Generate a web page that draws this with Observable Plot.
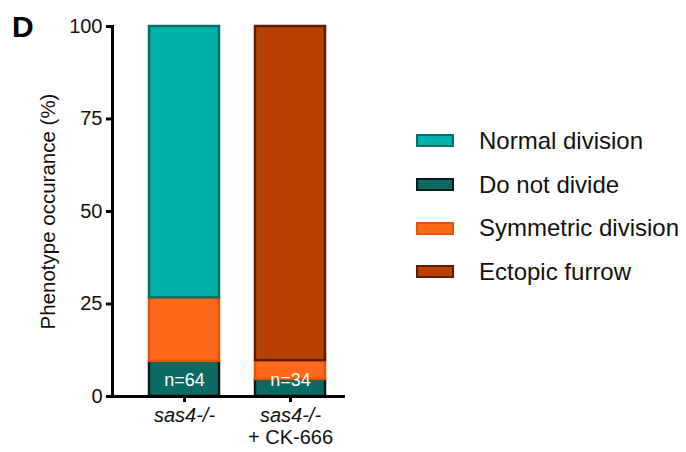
<!DOCTYPE html>
<html>
<head>
<meta charset="utf-8">
<script src="https://cdn.jsdelivr.net/npm/d3@7"></script>
<script src="https://cdn.jsdelivr.net/npm/@observablehq/plot@0.6"></script>
<style>
  body { margin: 0; background: #fff; font-family: Arial, "Liberation Sans", sans-serif; }
  #wrap { position: relative; width: 686px; height: 452px; }
  #panel { position: absolute; left: 12px; top: 10px; font-size: 30px; font-weight: bold; color: #000; }
  #legend { position: absolute; left: 416px; top: 119px; }
  .row { display: flex; align-items: center; height: 43.7px; }
  .sw { width: 34px; height: 9px; border: 2px solid; }
  .lab { margin-left: 25px; font-size: 24px; color: #111; }
</style>
</head>
<body>
<div id="wrap">
  <div id="panel">D</div>
  <div id="legend"></div>
</div>
<script>
const categories = ["sas4-/-", "sas4-/- + CK-666"];
const xLine1 = ["sas4-/-", "sas4-/-"];
const xLine2 = ["", "+ CK-666"];
const phenotypes = ["Do not divide", "Symmetric division", "Normal division", "Ectopic furrow"];
const doNotDivide = [9.5, 4.6];
const symmetricDivision = [17.2, 5.1];
const normalDivision = [73.3, 0];
const ectopicFurrow = [0, 90.3];
const nLabels = ["n=64", "n=34"];
const legendOrder = ["Normal division", "Do not divide", "Symmetric division", "Ectopic furrow"];
const yTicks = [0, 25, 50, 75, 100];
const yLabel = "Phenotype occurance (%)";

const fills = {
  "Normal division": "#00b2a9",
  "Do not divide": "#0c6a64",
  "Symmetric division": "#ff6a1a",
  "Ectopic furrow": "#b84000"
};
const strokes = {
  "Normal division": "#0a6e69",
  "Do not divide": "#0a1a18",
  "Symmetric division": "#e2560c",
  "Ectopic furrow": "#5e1d00"
};

const series = [doNotDivide, symmetricDivision, normalDivision, ectopicFurrow];
const data = [];
categories.forEach((c, i) => {
  phenotypes.forEach((p, j) => {
    if (series[j][i] > 0) data.push({group: c, phenotype: p, value: series[j][i]});
  });
});

const chart = Plot.plot({
  width: 686,
  height: 452,
  marginLeft: 112,
  marginRight: 341,
  marginTop: 26,
  marginBottom: 56,
  style: {fontFamily: "Arial, 'Liberation Sans', sans-serif", color: "#111", background: "transparent"},
  x: {domain: categories, range: [149, 325], paddingInner: 0.34, paddingOuter: 0, axis: null},
  y: {domain: [0, 100], axis: null},
  color: {type: "identity"},
  marks: [
    Plot.barY(data, Plot.stackY({
      x: "group",
      y: "value",
      order: phenotypes,
      z: "phenotype",
      fill: d => fills[d.phenotype],
      stroke: d => strokes[d.phenotype],
      strokeWidth: 2.5
    })),
    Plot.text(categories, {x: d => d, y: 0, text: (d, i) => nLabels[i], dy: -16, fill: "white", fontSize: 18}),
    Plot.axisY({ticks: yTicks, tickSize: 6, strokeWidth: 3, fontSize: 20, tickPadding: 4, label: null, stroke: "#000", color: "#111"}),
    Plot.axisX({tickSize: 6, strokeWidth: 3, tickFormat: () => "", label: null, stroke: "#000"}),
    Plot.frame({anchor: "left", strokeWidth: 3, stroke: "#000"}),
    Plot.ruleY([0], {strokeWidth: 3, stroke: "#000"}),
    Plot.text(categories, {x: d => d, text: (d, i) => xLine1[i], frameAnchor: "bottom", dy: 25, fontSize: 20, fontStyle: "italic", fill: "#111"}),
    Plot.text(categories, {x: d => d, text: (d, i) => xLine2[i], frameAnchor: "bottom", dy: 47, fontSize: 20, fill: "#111"}),
    Plot.text([yLabel], {frameAnchor: "left", textAnchor: "middle", rotate: -90, dx: -64, fontSize: 20.5, fill: "#111"})
  ]
});
document.getElementById("wrap").prepend(chart);

const legend = document.getElementById("legend");
legendOrder.forEach(name => {
  const row = document.createElement("div");
  row.className = "row";
  const sw = document.createElement("div");
  sw.className = "sw";
  sw.style.background = fills[name];
  sw.style.borderColor = strokes[name];
  const lab = document.createElement("div");
  lab.className = "lab";
  lab.textContent = name;
  row.append(sw, lab);
  legend.append(row);
});
</script>
</body>
</html>
